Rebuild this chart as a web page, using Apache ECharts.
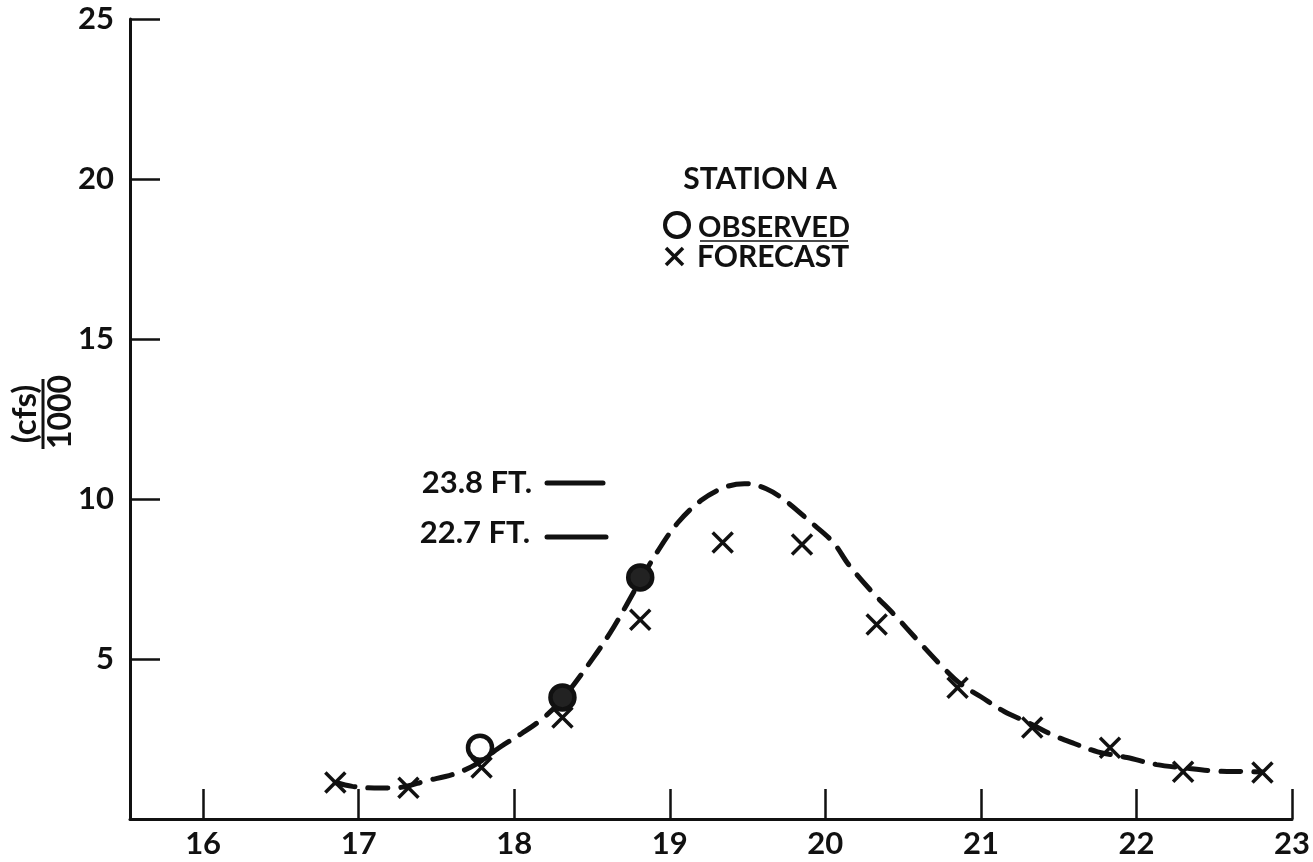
<!DOCTYPE html>
<html>
<head>
<meta charset="utf-8">
<script src="https://cdn.jsdelivr.net/npm/echarts@6/dist/echarts.min.js"></script>
<style>
html,body{margin:0;padding:0;background:#fff;}
#chart{width:1313px;height:862px;}
</style>
</head>
<body>
<div id="chart"></div>
<script>
// ---- data ----
const xTicks = [16, 17, 18, 19, 20, 21, 22, 23];
const yTicks = [5, 10, 15, 20, 25];
const curveX = [16.85,16.96,17.1,17.25,17.44,17.61,17.75,17.91,18.05,18.19,18.31,18.51,18.64,18.81,18.92,19.05,19.2,19.35,19.48,19.62,19.75,19.9,20.05,20.15,20.3,20.45,20.6,20.75,20.87,21.0,21.15,21.31,21.45,21.6,21.75,21.94,22.13,22.3,22.5,22.71,22.81];
const curveY = [1.14,1.02,0.97,0.98,1.2,1.4,1.7,2.25,2.68,3.17,3.75,5.05,6.0,7.45,8.35,9.25,9.95,10.36,10.48,10.32,9.92,9.3,8.65,7.95,7.1,6.35,5.55,4.77,4.22,3.82,3.36,3.0,2.65,2.36,2.1,1.92,1.7,1.6,1.5,1.48,1.47];
const forecastX = [16.85,17.32,17.79,18.31,18.81,19.34,19.85,20.33,20.85,21.33,21.83,22.30,22.81];
const forecastY = [1.14,0.98,1.61,3.17,6.23,8.64,8.58,6.08,4.1,2.86,2.23,1.48,1.45];
const observedX = [17.78,18.31,18.81];
const observedY = [2.23,3.8,7.55];
const stageLabels = ['23.8 FT.', '22.7 FT.'];
const yTitleTop = '(cfs)';
const yTitleBottom = '1000';
const legendTitle = 'STATION A';
const legendObserved = 'OBSERVED';
const legendForecast = 'FORECAST';

const zip = (a, b) => a.map((v, i) => [v, b[i]]);
const FONT = 'Lato';
const INK = '#111';

const chart = echarts.init(document.getElementById('chart'));
const option = {
  backgroundColor: '#fff',
  animation: false,
  grid: { left: 130, right: 21, top: 19, bottom: 43 },
  xAxis: {
    type: 'value', min: 15.53, max: 23,
    axisLine: { onZero: false, lineStyle: { color: INK, width: 3 } },
    splitLine: { show: false },
    axisTick: { inside: true, length: 30, customValues: xTicks, lineStyle: { color: INK, width: 2.5 } },
    axisLabel: { customValues: xTicks, margin: 9, color: INK, fontFamily: FONT, fontWeight: 'bold', fontSize: 31 }
  },
  yAxis: {
    type: 'value', min: 0, max: 25, interval: 5,
    axisLine: { show: true, lineStyle: { color: INK, width: 3 } },
    splitLine: { show: false },
    axisTick: { inside: true, length: 30, customValues: yTicks, lineStyle: { color: INK, width: 2.5 } },
    axisLabel: { customValues: yTicks, margin: 16, color: INK, fontFamily: FONT, fontWeight: 'bold', fontSize: 31 }
  },
  series: [
    {
      type: 'line', data: zip(curveX, curveY), smooth: 0.35, symbol: 'none', z: 2,
      lineStyle: { color: INK, width: 5, type: [20, 13], cap: 'round' }
    },
    {
      type: 'scatter', data: zip(forecastX, forecastY), z: 3,
      symbol: 'path://M0,0 L10,10 M10,0 L0,10', symbolSize: 20,
      itemStyle: { color: 'none', borderColor: INK, borderWidth: 3.5, opacity: 1 }
    },
    {
      type: 'scatter', data: zip(observedX, observedY), z: 4,
      symbol: 'circle', symbolSize: 24,
      itemStyle: {
        color: p => (p.dataIndex === 0 ? '#fff' : '#222'),
        borderColor: INK, borderWidth: 4.5, opacity: 1
      }
    }
  ],
  graphic: [
    // y-axis title (rotated fraction)
    { type: 'text', x: 25, y: 414, rotation: Math.PI / 2,
      style: { text: yTitleTop, fontFamily: FONT, fontWeight: 'bold', fontSize: 33, fill: INK, align: 'center', verticalAlign: 'middle' } },
    { type: 'line', shape: { x1: 43, y1: 379, x2: 43, y2: 449 }, style: { stroke: INK, lineWidth: 3 } },
    { type: 'text', x: 61, y: 412, rotation: Math.PI / 2,
      style: { text: yTitleBottom, fontFamily: FONT, fontWeight: 'bold', fontSize: 32, fill: INK, align: 'center', verticalAlign: 'middle' } },
    // legend block
    { type: 'text', x: 760, y: 179,
      style: { text: legendTitle, fontFamily: FONT, fontWeight: 'bold', fontSize: 30, fill: INK, align: 'center', verticalAlign: 'middle' } },
    { type: 'circle', shape: { cx: 677, cy: 225, r: 12 }, style: { fill: 'none', stroke: INK, lineWidth: 4 } },
    { type: 'text', x: 698, y: 228,
      style: { text: legendObserved, fontFamily: FONT, fontWeight: 'bold', fontSize: 29, fill: INK, align: 'left', verticalAlign: 'middle' } },
    { type: 'line', shape: { x1: 700, y1: 241, x2: 848, y2: 241 }, style: { stroke: INK, lineWidth: 1.5 } },
    { type: 'line', shape: { x1: 666, y1: 248, x2: 683, y2: 265 }, style: { stroke: INK, lineWidth: 3.5 } },
    { type: 'line', shape: { x1: 683, y1: 248, x2: 666, y2: 265 }, style: { stroke: INK, lineWidth: 3.5 } },
    { type: 'text', x: 697, y: 257,
      style: { text: legendForecast, fontFamily: FONT, fontWeight: 'bold', fontSize: 30, fill: INK, align: 'left', verticalAlign: 'middle' } },
    // stage annotations
    { type: 'text', x: 532, y: 483,
      style: { text: stageLabels[0], fontFamily: FONT, fontWeight: 'bold', fontSize: 31, fill: INK, align: 'right', verticalAlign: 'middle' } },
    { type: 'line', shape: { x1: 547, y1: 483, x2: 603, y2: 483 }, style: { stroke: INK, lineWidth: 5, lineCap: 'round' } },
    { type: 'text', x: 530, y: 533,
      style: { text: stageLabels[1], fontFamily: FONT, fontWeight: 'bold', fontSize: 31, fill: INK, align: 'right', verticalAlign: 'middle' } },
    { type: 'line', shape: { x1: 547, y1: 537, x2: 606, y2: 537 }, style: { stroke: INK, lineWidth: 5, lineCap: 'round' } }
  ]
};
chart.setOption(option);
</script>
</body>
</html>
